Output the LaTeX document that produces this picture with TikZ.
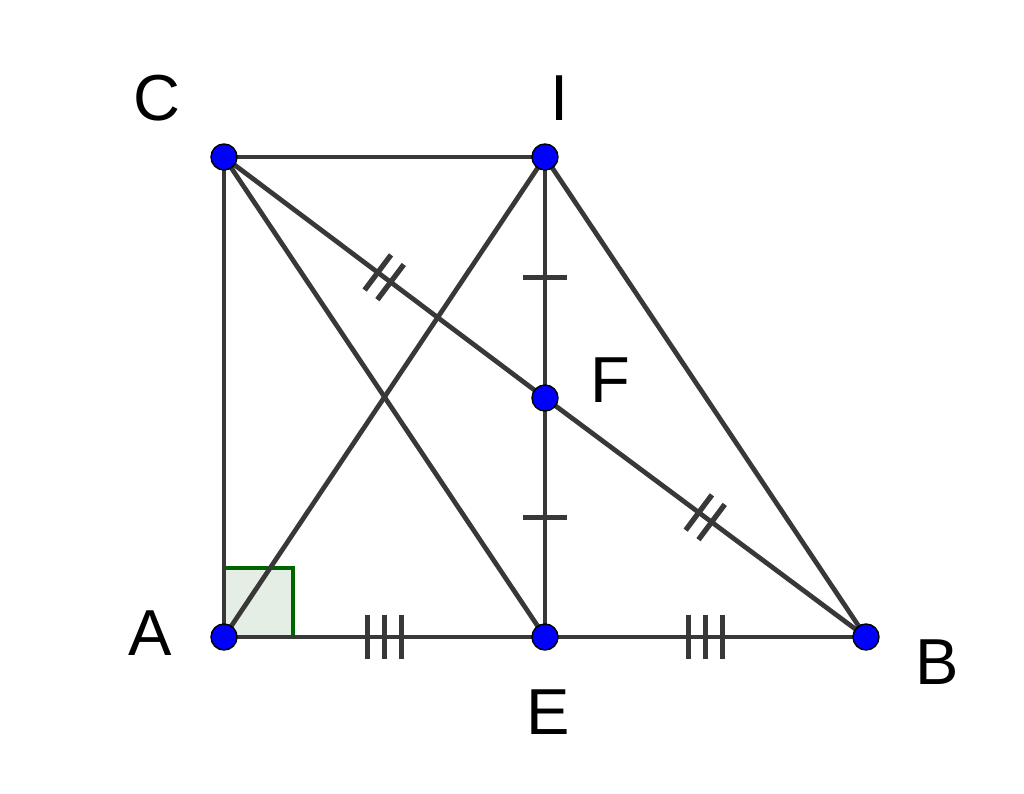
\documentclass[tikz,border=0pt]{standalone}
\usepackage{fontspec}
\setmainfont{Liberation Sans}
\usepackage{tikz}
\usetikzlibrary{decorations.markings}

\tikzset{
  seg/.style={draw=black!78, line width=1.35pt},
  pt/.style={circle, fill=blue, draw=black, line width=.4pt, inner sep=0pt, minimum size=.26cm},
  lbl/.style={font=\fontsize{18.5}{20}\selectfont, inner sep=0pt},
  tickone/.style={postaction={decorate, decoration={markings, mark=at position .5 with {\draw[line width=1.5pt, black!78] (0,-.22) -- (0,.22);}}}},
  ticktwo/.style={postaction={decorate, decoration={markings, mark=at position .5 with {\draw[line width=1.5pt, black!78] (-.08,-.22) -- (-.08,.22) (.08,-.22) -- (.08,.22);}}}},
  tickthree/.style={postaction={decorate, decoration={markings, mark=at position .5 with {\draw[line width=1.5pt, black!78] (-.17,-.22) -- (-.17,.22) (0,-.22) -- (0,.22) (.17,-.22) -- (.17,.22);}}}}
}

\begin{document}
\begin{tikzpicture}
\useasboundingbox (0,0) rectangle (10.24,7.93);
% points
\coordinate (A) at (2.24,1.56);
\coordinate (E) at (5.45,1.56);
\coordinate (B) at (8.66,1.56);
\coordinate (C) at (2.24,6.36);
\coordinate (I) at (5.45,6.36);
\coordinate (F) at (5.45,3.95);
% right angle
\draw [draw={rgb,255:red,0;green,100;blue,0}, fill={rgb,255:red,228;green,238;blue,228}, line width=1.35pt] (A) rectangle ++(.69,.69);
% lines
\draw [seg] (C) -- (I);
\draw [seg] (C) -- (A);
\draw [seg] (C) -- (E);
\draw [seg] (A) -- (I);
\draw [seg] (I) -- (B);
\draw [seg, tickthree] (A) -- (E);
\draw [seg, tickthree] (E) -- (B);
\draw [seg, tickone] (I) -- (F);
\draw [seg, tickone] (F) -- (E);
\draw [seg, ticktwo] (C) -- (F);
\draw [seg, ticktwo] (F) -- (B);
% dots
\foreach \p in {A,E,B,C,I,F} \node [pt] (dot\p) at (\p) {};
% labels
\node [lbl] (labC) at (1.57,6.95) {C};
\node [lbl] (labI) at (5.60,6.95) {I};
\node [lbl] (labF) at (6.10,4.13) {F};
\node [lbl] (labA) at (1.50,1.60) {A};
\node [lbl] (labB) at (9.37,1.31) {B};
\node [lbl] (labE) at (5.48,0.81) {E};
\end{tikzpicture}
\end{document}
